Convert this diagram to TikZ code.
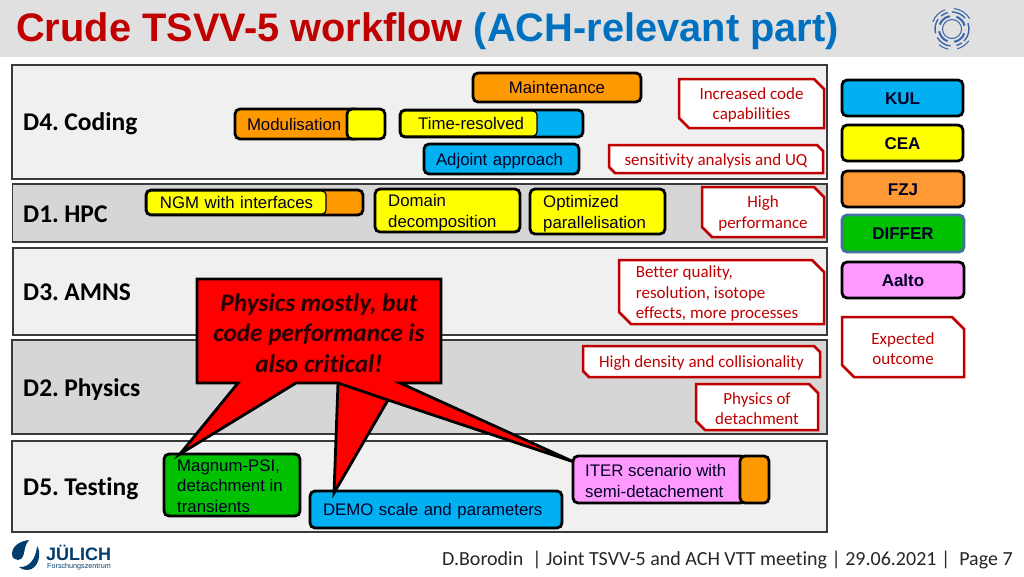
\documentclass[tikz,border=0pt]{standalone}
\usepackage{fontspec}
\setmainfont[Ligatures=NoCommon]{Carlito}
\newfontfamily\arialf{Liberation Sans}
\newfontfamily\dfont[WordSpace=0.6,Ligatures=NoCommon]{Carlito}
\usetikzlibrary{calc}
\definecolor{barg}{HTML}{E0E0E0}
\definecolor{tred}{HTML}{C00000}
\definecolor{tblue}{HTML}{0070C0}
\definecolor{panl}{HTML}{F0F0F0}
\definecolor{pand}{HTML}{D6D6D6}
\definecolor{edgeg}{HTML}{3A3A3A}
\definecolor{oran}{HTML}{FF9900}
\definecolor{oranb}{HTML}{FF9933}
\definecolor{yell}{HTML}{FFFF00}
\definecolor{blu}{HTML}{00B0F0}
\definecolor{grn}{HTML}{00C000}
\definecolor{pnk}{HTML}{FF99FF}
\definecolor{stb}{HTML}{41719C}
\definecolor{logob}{HTML}{3B64AD}
\definecolor{jb}{HTML}{023D6B}
\tikzset{
  panel/.style={draw=edgeg,line width=1.4pt,rectangle,inner sep=0pt},
  tag/.style={draw=black,line width=2.8pt,rounded corners=5pt,rectangle,inner sep=0pt,font=\arialf\fontsize{16.8}{20.5}\selectfont,text=black!85!blue,text height=12pt,text depth=0pt},
  tagtxt/.style={anchor=west,inner sep=0pt,align=left,font=\arialf\fontsize{16.8}{20.5}\selectfont,text=black!85!blue},
  inner/.style={draw=black,line width=1.2pt,rounded corners=4pt,rectangle,inner sep=0pt,font=\arialf\fontsize{16.8}{20.5}\selectfont,text=black!85!blue,text height=12pt,text depth=0pt},
  legendbox/.style={tag,font=\arialf\bfseries\fontsize{17}{20}\selectfont},
  outcome/.style={draw=tred,line width=2.5pt,fill=white,line join=miter},
  outtext/.style={font=\fontsize{17}{20.4}\selectfont,text=tred,inner sep=0pt,align=center,yshift=-1.5pt},
  dlabel/.style={font=\dfont\bfseries\fontsize{25.5}{28}\selectfont,anchor=base west,inner sep=0pt,text=black},
  callout/.style={draw=black,line width=2.8pt,fill=red,line join=miter},
}
% name, x0,y0,x1,y1, options, inset, text
\newcommand{\bx}[8]{%
  \node[#6,minimum width={(#4-#2)*1pt},minimum height={(#5-#3)*1pt},
        text width={(#4-#2-2*#7)*1pt},
        at={({(#2+#4)/2},{(#3+#5)/2})}] (#1) {#8};}
% name,x0,y0,x1,y1,cut,options,text
\newcommand{\snip}[8]{%
  \draw[outcome] (#2,#3) -- ({#4-#6},#3) -- (#4,{#3+#6}) -- (#4,#5) -- ({#2+#6},#5) -- (#2,{#5-#6}) -- cycle;
  \node[outtext,#7] (#1) at ({(#2+#4)/2},{(#3+#5)/2}) {#8};}
\begin{document}
\begin{tikzpicture}[x=1pt,y=-1pt]
\useasboundingbox (0,0) rectangle (1024,576);
\fill[white] (0,0) rectangle (1024,576);
\fill[barg] (0,0) rectangle (1024,57);
\node[anchor=base west,inner sep=0pt,font=\arialf\bfseries\fontsize{39.8}{44}\selectfont] (title) at (16,41)
  {\textcolor{tred}{Crude TSVV-5 workflow} \textcolor{tblue}{(ACH-relevant part)}};
% fusion logo
\begin{scope}[logob,line cap=butt]
\draw[line width=1pt] (952,29) circle (9.5);
\foreach \a/\b in {20/80,110/170,200/260,290/345}{
  \draw[line width=2pt] ({952+13*cos(\a)},{29+13*sin(\a)}) arc[start angle=\a,end angle=\b,radius=13];}
\foreach \a/\b in {-20/45,55/75,95/150,165/215,230/255,270/320}{
  \draw[line width=1.4pt] ({952+17*cos(\a)},{29+17*sin(\a)}) arc[start angle=\a,end angle=\b,radius=17];}
\foreach \a/\b in {35/75,100/130,200/250,275/330}{
  \draw[line width=1pt] ({952+20.5*cos(\a)},{29+20.5*sin(\a)}) arc[start angle=\a,end angle=\b,radius=20.5];}
\end{scope}
% panels
\bx{p4}{12}{65}{827}{179}{panel,fill=panl}{0}{}
\bx{p1}{12.5}{184}{827}{242}{panel,fill=pand}{0}{}
\bx{p3}{13}{248}{827}{335}{panel,fill=panl}{0}{}
\bx{p2}{12}{340}{827}{434}{panel,fill=pand}{0}{}
\bx{p5}{12}{441}{827}{532}{panel,fill=panl}{0}{}
\node[dlabel] (l4) at (23,130) {D4. Coding};
\node[dlabel] (l1) at (23,222) {D1. HPC};
\node[dlabel] (l3) at (23,300) {D3. AMNS};
\node[dlabel] (l2) at (23,396) {D2. Physics};
\node[dlabel] (l5) at (23,495) {D5. Testing};
% tags
\bx{maint}{473}{73}{641}{102}{tag,fill=oran,align=center}{0}{Maintenance}
\bx{modb}{235}{109}{360}{139}{tag,fill=oran,align=left}{12}{Modulisation}
\bx{mody}{347}{109}{385}{139}{tag,fill=yell}{0}{}
\bx{timb}{400}{110}{583}{137}{tag,fill=blu}{0}{}
\bx{timy}{401}{111}{537}{136}{inner,fill=yell}{0}{}
\node[tagtxt] (timt) at (418,123.5) {Time-resolved};
\bx{adj}{424}{144}{579}{174}{tag,fill=blu,align=left}{12}{Adjoint approach}
\bx{ngmo}{146}{190}{363}{215}{tag,fill=oran}{0}{}
\bx{ngmy}{147}{191}{326}{214}{inner,fill=yell,align=center}{0}{NGM with interfaces}
\bx{dom}{375}{189}{520}{232}{tag,fill=yell}{0}{}
\node[tagtxt] (domt) at (388,212.5) {Domain\\decomposition};
\bx{opt}{530}{189}{665}{234}{tag,fill=yell}{0}{}
\node[tagtxt] (optt) at (543,213.9) {Optimized\\parallelisation};
\bx{mag}{164}{454}{300}{516}{tag,fill=grn}{0}{}
\node[tagtxt] (magt) at (177,485.8) {Magnum-PSI,\\detachment in\\transients};
\bx{demo}{310}{491}{562}{528}{tag,fill=blu,align=left}{13}{DEMO scale and parameters}
\bx{iter}{573}{456}{746}{503}{tag,fill=pnk}{0}{}
\bx{itero}{740}{456}{769}{503}{tag,fill=oran}{0}{}
\node[tagtxt] (itert) at (585,480.9) {ITER scenario with\\semi-detachement};
% legend
\bx{kul}{842}{80}{963}{116}{legendbox,fill=blu,align=center}{0}{KUL}
\bx{cea}{842}{125}{963}{161}{legendbox,fill=yell,align=center}{0}{CEA}
\bx{fzj}{842}{171}{964}{207}{legendbox,fill=oranb,align=center}{0}{FZJ}
\bx{dif}{842}{215}{964}{252}{legendbox,draw=stb,fill=grn,align=center}{0}{DIFFER}
\bx{aal}{842}{262}{964}{298}{legendbox,fill=pnk,align=center}{0}{Aalto}
% outcomes
\snip{o1}{679}{79}{824}{128}{10}{}{Increased code\\capabilities}
\snip{o2}{609}{145}{823}{173}{6}{}{sensitivity analysis and UQ}
\snip{o3}{702}{187}{824}{237}{10}{}{High\\performance}
\snip{o4}{619}{260}{824}{324}{12}{xshift=-4.5pt,align=left}{Better quality,\\resolution, isotope\\effects, more processes}
\snip{o5}{583}{346}{820}{377}{6}{}{High density and collisionality}
\snip{o6}{696}{384}{818}{430}{9}{}{Physics of\\detachment}
\snip{o7}{842}{317}{964}{377}{12}{}{Expected\\outcome}
% callout
\draw[callout] (197,279) -- (441,279) -- (441,383) -- (400,383) -- (574,462) -- (388,400)
  -- (334,493) -- (338,383) -- (296,383) -- (180,454) -- (238,383) -- (197,383) -- cycle;
\draw[black,line width=2.8pt] (338,383) -- (388,400);
\node[inner sep=0pt,align=center,text=black!85!red,font=\bfseries\itshape\fontsize{25.3}{30.6}\selectfont] (call) at (319,333)
  {Physics mostly, but\\code performance is\\also critical!};
% footer
\node[anchor=base west,inner sep=0pt,font=\fontsize{20}{22}\selectfont,text=black!85] (foot) at (442,565)
  {D.Borodin\ \ | Joint TSVV-5 and ACH VTT meeting | 29.06.2021 |\ \ Page 7};
% Juelich logo
\fill[jb] (29,540) .. controls (20,541) and (12,546) .. (12,554) .. controls (12,558) and (15,560) .. (18,560)
  .. controls (24,560) and (24,552) .. (25,548) .. controls (26,545) and (27,542) .. (29,540) -- cycle;
\fill[jb] (37,546) .. controls (42,552) and (39,570) .. (27,570) .. controls (24,570) and (21,569) .. (19,567)
  .. controls (28,568) and (36,560) .. (37,546) -- cycle;
\node[anchor=base west,inner sep=0pt,text=jb,font=\arialf\bfseries\fontsize{18}{20}\selectfont] (jn) at (46,560) {JÜLICH};
\node[anchor=base west,inner sep=0pt,text=jb,font=\arialf\fontsize{7.2}{8}\selectfont] (jf) at (47,568.5) {Forschungszentrum};
\end{tikzpicture}
\end{document}
